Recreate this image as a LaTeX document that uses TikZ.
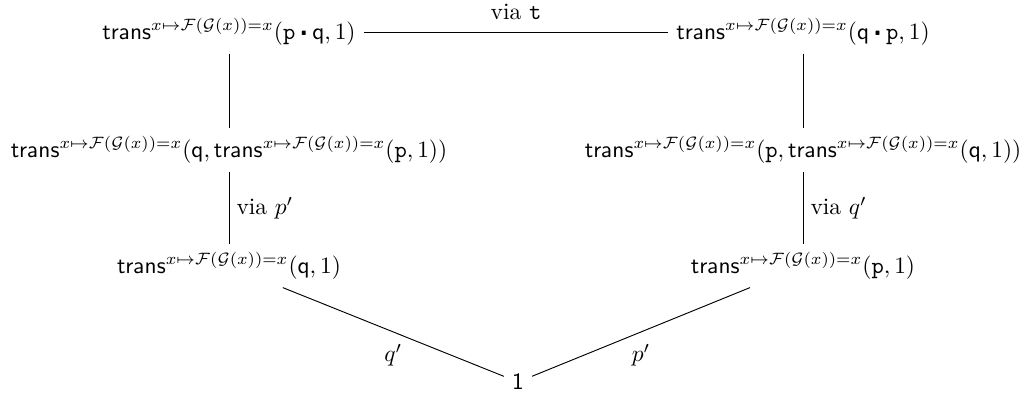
\documentclass[tikz,border=0pt]{standalone}
\usepackage{amsmath,amssymb}
\newcommand{\trns}{\mathsf{trans}^{x\mapsto\mathcal{F}(\mathcal{G}(x))=x}}
\newcommand{\pp}{\mathtt{p}}
\newcommand{\qq}{\mathsf{q}}
\newcommand{\cct}{\mathbin{\raisebox{0.4ex}{$\centerdot$}}}
\begin{document}
\begin{tikzpicture}[x=0.0150cm,y=-0.0150cm,
  lab/.style={inner sep=1pt},
  conn/.style={draw=black,line width=0.4pt}]
\useasboundingbox (0,0) rectangle (1026,394);
\node (tl) at (229,32) {$\trns(\pp\cct\qq,1)$};
\node (tr) at (803,32) {$\trns(\qq\cct\pp,1)$};
\node (ml) at (229,150) {$\trns(\qq,\trns(\pp,1))$};
\node (mr) at (803,150) {$\trns(\pp,\trns(\qq,1))$};
\node (bl) at (229,266) {$\trns(\qq,1)$};
\node (br) at (803,266) {$\trns(\pp,1)$};
\node (one) at (518,382) {$\mathsf{1}$};
\draw[conn] (tl) -- node[lab,above=4pt] {via $\mathtt{t}$} (tr);
\draw[conn] (tl.south -| ml.center) -- (ml);
\draw[conn] (tr.south -| mr.center) -- (mr);
\draw[conn] (ml) -- node[lab,right=2pt] {via $p'$} (bl);
\draw[conn] (mr) -- node[lab,right=2pt] {via $q'$} (br);
\draw[conn] (bl) -- node[lab,below=4pt] {$q'$} (one);
\draw[conn] (one) -- node[lab,below=4pt] {$p'$} (br);
\end{tikzpicture}
\end{document}
